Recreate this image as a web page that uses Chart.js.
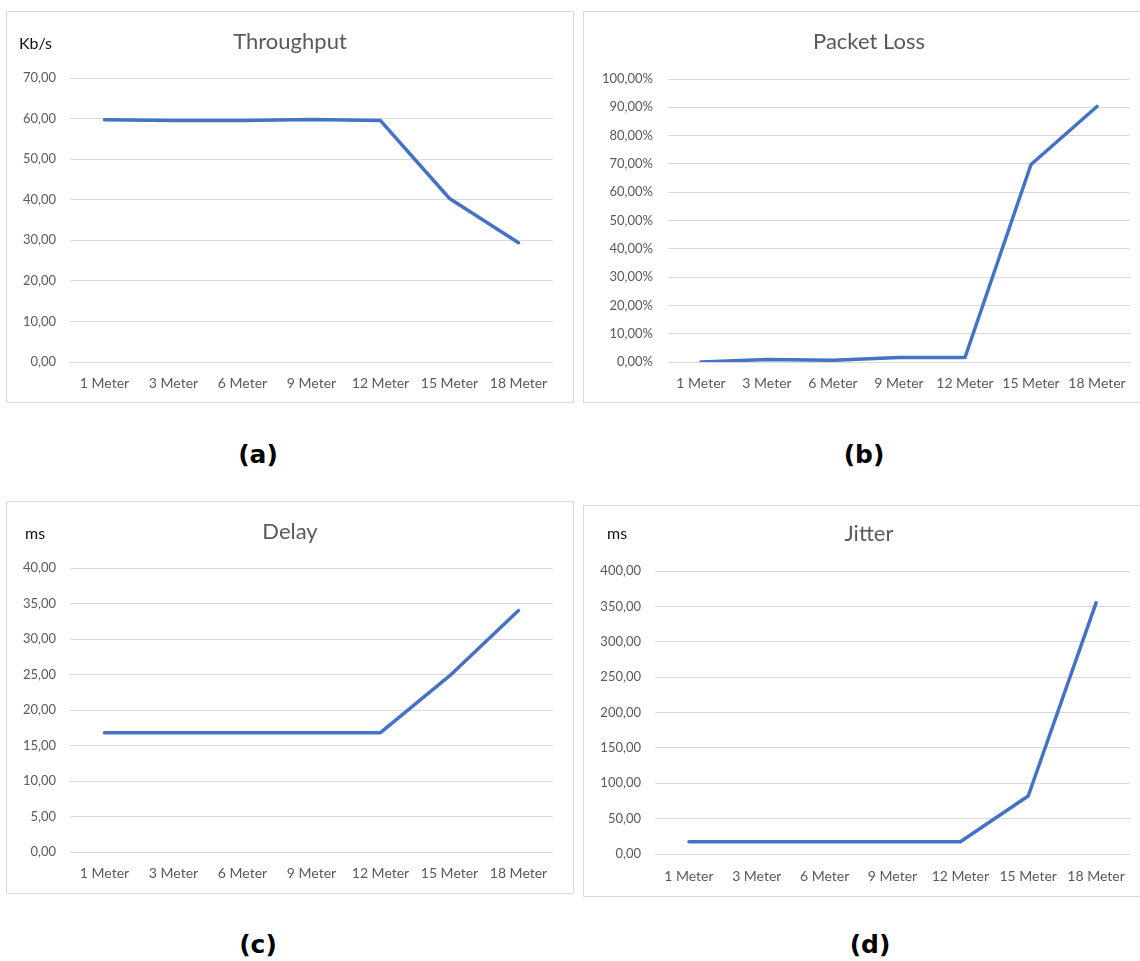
<!DOCTYPE html>
<html>
<head>
<meta charset="utf-8">
<title>Throughput, Packet Loss, Delay, Jitter</title>
<script src="https://cdn.jsdelivr.net/npm/chart.js@4.4.1/dist/chart.umd.min.js"></script>
<style>
  html, body { margin: 0; padding: 0; background: #fff; overflow: hidden; }
  body { width: 1140px; height: 961px; position: relative; }
  .panel { position: absolute; border: 1px solid #d9d9d9; background: #fff; }
  .panel .plot { position: absolute; left: 0; top: 0; width: 100%; height: 100%; }
  .unit { position: absolute; font: 16px Lato, "Open Sans", sans-serif; line-height: 20px; color: #111; }
  .caption { position: absolute; width: 100px; text-align: center;
             font: bold 25px "DejaVu Sans", Verdana, sans-serif; line-height: 30px; color: #000; }
</style>
</head>
<body>
<script>
// four Excel-style line charts measured over distance

const distances = ['1 Meter', '3 Meter', '6 Meter', '9 Meter', '12 Meter', '15 Meter', '18 Meter'];

const throughputKbps = [59.7, 59.55, 59.55, 59.75, 59.5, 40.3, 29.4];
const packetLossPct  = [0.0, 0.9, 0.6, 1.6, 1.6, 69.8, 90.3];
const delayMs        = [16.8, 16.8, 16.8, 16.8, 16.8, 24.8, 34.0];
const jitterMs       = [17.4, 17.4, 17.4, 17.4, 17.4, 82.0, 355.0];

const captions = ['(a)', '(b)', '(c)', '(d)'];

const LINE_BLUE = '#4472C4';
const GRID_GREY = '#d9d9d9';
const TEXT_GREY = '#595959';
const FONT = 'Lato, "Open Sans", sans-serif';

function comma(v) {
  return v.toFixed(2).replace('.', ',');
}

// box = [left, top, innerWidth, innerHeight] in page pixels,
// plot = where the gridlines sit, everything else is page coords too
function makePanel(p) {
  const [bx, by, bw, bh] = p.box;
  const box = document.createElement('div');
  box.className = 'panel';
  box.style.left = bx + 'px';
  box.style.top = by + 'px';
  box.style.width = bw + 'px';
  box.style.height = bh + 'px';
  const wrap = document.createElement('div');
  wrap.className = 'plot';
  const canvas = document.createElement('canvas');
  wrap.appendChild(canvas);
  box.appendChild(wrap);
  document.body.appendChild(box);

  const inL = bx + 1, inT = by + 1;
  if (p.unit) {
    const u = document.createElement('div');
    u.className = 'unit';
    u.textContent = p.unit;
    u.style.left = (p.unitX - inL) + 'px';
    u.style.top = (p.unitY - inT - 10) + 'px';
    box.appendChild(u);
  }

  const titleSize = 22, tickSize = 13, xSize = 14;
  const titleTop = p.titleY - inT - titleSize * 0.6;
  const titleBottom = (p.plot.top - inT) - titleTop - titleSize * 1.2;
  const yWidth = p.plot.left - inL;
  const rightPad = inL + bw - p.plot.right;
  const xHeight = inT + bh - p.plot.bottom;
  const xPad = p.xLabelY - p.plot.bottom - xSize * 0.6;

  new Chart(canvas, {
    type: 'line',
    data: {
      labels: distances,
      datasets: [{
        data: p.values,
        borderColor: LINE_BLUE,
        borderWidth: 3.5,
        borderCapStyle: 'round',
        borderJoinStyle: 'round',
        pointRadius: 0,
        tension: 0,
        fill: false
      }]
    },
    options: {
      responsive: true,
      maintainAspectRatio: false,
      devicePixelRatio: 1,
      animation: false,
      layout: { padding: 0 },
      plugins: {
        legend: { display: false },
        tooltip: { enabled: false },
        title: {
          display: true,
          text: p.title,
          color: TEXT_GREY,
          font: { family: FONT, size: titleSize, weight: 'normal', lineHeight: 1.2 },
          padding: { top: titleTop, bottom: titleBottom }
        }
      },
      scales: {
        x: {
          offset: true,
          grid: { display: false, drawTicks: false },
          border: { display: false },
          ticks: {
            color: TEXT_GREY,
            font: { family: FONT, size: xSize, lineHeight: 1.2 },
            padding: xPad,
            maxRotation: 0,
            autoSkip: false
          },
          afterFit: s => { s.height = xHeight; }
        },
        y: {
          min: 0,
          max: p.max,
          grid: { color: GRID_GREY, lineWidth: 1, drawTicks: false },
          border: { display: false },
          ticks: {
            stepSize: p.step,
            color: TEXT_GREY,
            font: { family: FONT, size: tickSize },
            padding: p.plot.left - p.labelRight,
            callback: v => comma(v) + (p.percent ? '%' : '')
          },
          afterFit: s => { s.width = yWidth; }
        },
        // empty right-hand spacer so the title stays centred on the whole box
        spacer: {
          type: 'linear',
          position: 'right',
          min: 0,
          max: p.max,
          grid: { display: false, drawTicks: false },
          border: { display: false },
          ticks: { display: false },
          afterFit: s => { s.width = rightPad; }
        }
      }
    }
  });
}

makePanel({
  box: [6, 11, 566, 390], title: 'Throughput', titleY: 42,
  unit: 'Kb/s', unitX: 19, unitY: 43,
  values: throughputKbps, max: 70, step: 10,
  plot: { left: 70, right: 553, top: 78, bottom: 362 }, labelRight: 56, xLabelY: 383
});
makePanel({
  box: [583, 11, 570, 390], title: 'Packet Loss', titleY: 42,
  values: packetLossPct, max: 100, step: 10, percent: true,
  plot: { left: 668, right: 1130, top: 79, bottom: 362 }, labelRight: 653, xLabelY: 383
});
makePanel({
  box: [6, 501, 566, 391], title: 'Delay', titleY: 532,
  unit: 'ms', unitX: 25, unitY: 533,
  values: delayMs, max: 40, step: 5,
  plot: { left: 70, right: 553, top: 568, bottom: 852 }, labelRight: 56, xLabelY: 873
});
makePanel({
  box: [583, 505, 570, 390], title: 'Jitter', titleY: 534,
  unit: 'ms', unitX: 607, unitY: 533,
  values: jitterMs, max: 400, step: 50,
  plot: { left: 655, right: 1130, top: 571, bottom: 854 }, labelRight: 641, xLabelY: 876
});

// (a) (b) (c) (d) under the panels
const captionSpots = [[258, 455], [864, 455], [258, 945], [870, 945]];
captions.forEach((txt, i) => {
  const c = document.createElement('div');
  c.className = 'caption';
  c.textContent = txt;
  c.style.left = (captionSpots[i][0] - 50) + 'px';
  c.style.top = (captionSpots[i][1] - 15) + 'px';
  document.body.appendChild(c);
});
</script>
</body>
</html>
